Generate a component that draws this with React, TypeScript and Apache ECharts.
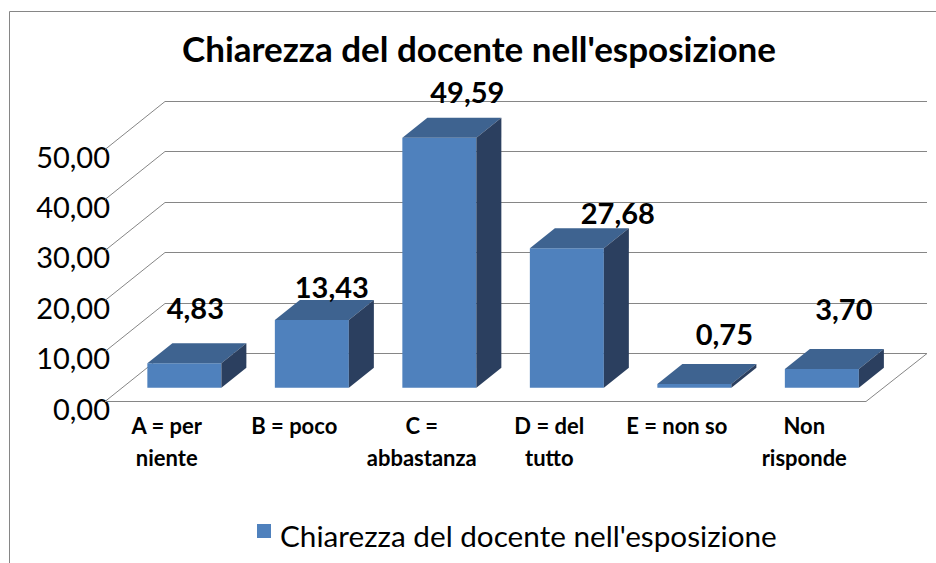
import React, { useEffect, useRef } from "react";
import * as echarts from "echarts";

const TITLE = "Chiarezza del docente nell'esposizione";
const CATEGORIES = ["A = per\nniente", "B = poco", "C =\nabbastanza", "D = del\ntutto", "E = non so", "Non\nrisponde"];
const VALUES = [4.83, 13.43, 49.59, 27.68, 0.75, 3.7];
const VALUE_TICKS = [0, 10, 20, 30, 40, 50];
// Hand placement of each data label relative to the bar's top-back edge (as in the source chart).
const LABEL_NUDGE: [number, number][] = [[11, -36], [20, -14], [28, -26], [51, -16], [30, -30], [22, -41]];

const FONT = "Lato, 'Open Sans', sans-serif";
const LINE = "#868686";
const FRONT = "#4F81BD";
const TOP = "#3E6390";
const SIDE = "#2B3F5F";
const fmt = (v: number) => v.toFixed(2).replace(".", ",");

export default function App() {
  const ref = useRef<HTMLDivElement>(null);
  useEffect(() => {
    document.body.style.margin = "0";
    const chart = echarts.init(ref.current!, null, { renderer: "svg" });
    const wallDx = 60, wallDy = -48;
    const barDx = 25, barDy = -20;
    const offX = 17.6, offY = -13.3, halfW = 37;

    chart.setOption({
      animation: false,
      textStyle: { fontFamily: FONT },
      title: {
        text: TITLE, left: 474, top: 25, textAlign: "center",
        textStyle: { fontFamily: FONT, fontSize: 35, fontWeight: "bold", color: "#000" },
      },
      legend: {
        data: [TITLE], left: 257, top: 520, padding: 0, icon: "rect", itemWidth: 14, itemHeight: 14,
        formatter: "{a|{name}}",
        textStyle: {
          fontFamily: FONT, fontSize: 29.7, color: "#000",
          rich: { a: { fontFamily: FONT, fontSize: 29.7, color: "#000", padding: [8, 0, 0, 4] } },
        },
      },
      grid: { left: 103, width: 765, top: 149, height: 252 },
      xAxis: {
        type: "category", data: CATEGORIES,
        axisLine: { show: false }, axisTick: { show: false }, splitLine: { show: false },
        axisLabel: { interval: 0, margin: 8, fontFamily: FONT, fontSize: 22, fontWeight: "bold", color: "#000", lineHeight: 32 },
      },
      yAxis: {
        type: "value", min: 0, max: 50, interval: 10,
        axisLine: { show: false }, axisTick: { show: false }, splitLine: { show: false },
        axisLabel: { margin: -7, fontFamily: FONT, fontSize: 29, color: "#000", formatter: (v: number) => fmt(v), verticalAlign: "top", lineHeight: 14 },
      },
      graphic: [{
        type: "polyline", silent: true, z: 0,
        shape: { points: [[9.5, 563], [9.5, 11.5], [936, 11.5]] },
        style: { stroke: LINE, fill: "none", lineWidth: 1 },
      }],
      series: [
        {
          type: "custom", name: "frame", silent: true, z: 1, clip: false,
          data: VALUE_TICKS.map((v) => [0, v]),
          encode: { x: 0, y: 1 },
          renderItem: (params: any, api: any) => {
            const cs = params.coordSys;
            const y = Math.round(api.coord([0, api.value(1)])[1]) + 0.5;
            const x0 = cs.x + 2, x1 = cs.x + cs.width - 2;
            const style = { stroke: LINE, fill: "none", lineWidth: 1 };
            const children: any[] = [{
              type: "polyline", silent: true,
              shape: { points: [[x0, y], [x0 + wallDx, y + wallDy], [x1 + wallDx + 1, y + wallDy]] }, style,
            }];
            if (api.value(1) === 0) {
              children.push({
                type: "polyline", silent: true,
                shape: { points: [[x0, y], [x1, y], [x1 + wallDx + 1, y + wallDy]] }, style,
              });
            }
            return { type: "group", children };
          },
        },
        {
          type: "custom", name: TITLE, z: 2, clip: false,
          itemStyle: { color: FRONT },
          data: VALUES.map((v, i) => [i, v]),
          encode: { x: 0, y: 1 },
          renderItem: (_p: any, api: any) => {
            const i = api.value(0), v = api.value(1);
            const c0 = api.coord([i, 0]), c1 = api.coord([i, v]);
            const l = c0[0] + offX - halfW, r = c0[0] + offX + halfW;
            const b = c0[1] + offY, t = c1[1] + offY;
            const n = LABEL_NUDGE[i];
            return {
              type: "group",
              children: [
                { type: "polygon", shape: { points: [[l, b], [r, b], [r, t], [l, t]] }, style: { fill: FRONT } },
                { type: "polygon", shape: { points: [[l, t], [r, t], [r + barDx, t + barDy], [l + barDx, t + barDy]] }, style: { fill: TOP } },
                { type: "polygon", shape: { points: [[r, b], [r + barDx, b + barDy], [r + barDx, t + barDy], [r, t]] }, style: { fill: SIDE } },
                {
                  type: "text", z2: 10,
                  style: {
                    text: fmt(v), x: (l + r) / 2 + n[0], y: t + barDy + n[1], align: "center", verticalAlign: "middle",
                    fontFamily: FONT, fontSize: 29, fontWeight: "bold", fill: "#000",
                  },
                },
              ],
            };
          },
        },
      ],
    });
    return () => chart.dispose();
  }, []);
  return <div ref={ref} style={{ position: "fixed", left: 0, top: 0, width: 936, height: 563, background: "#fff" }} />;
}
